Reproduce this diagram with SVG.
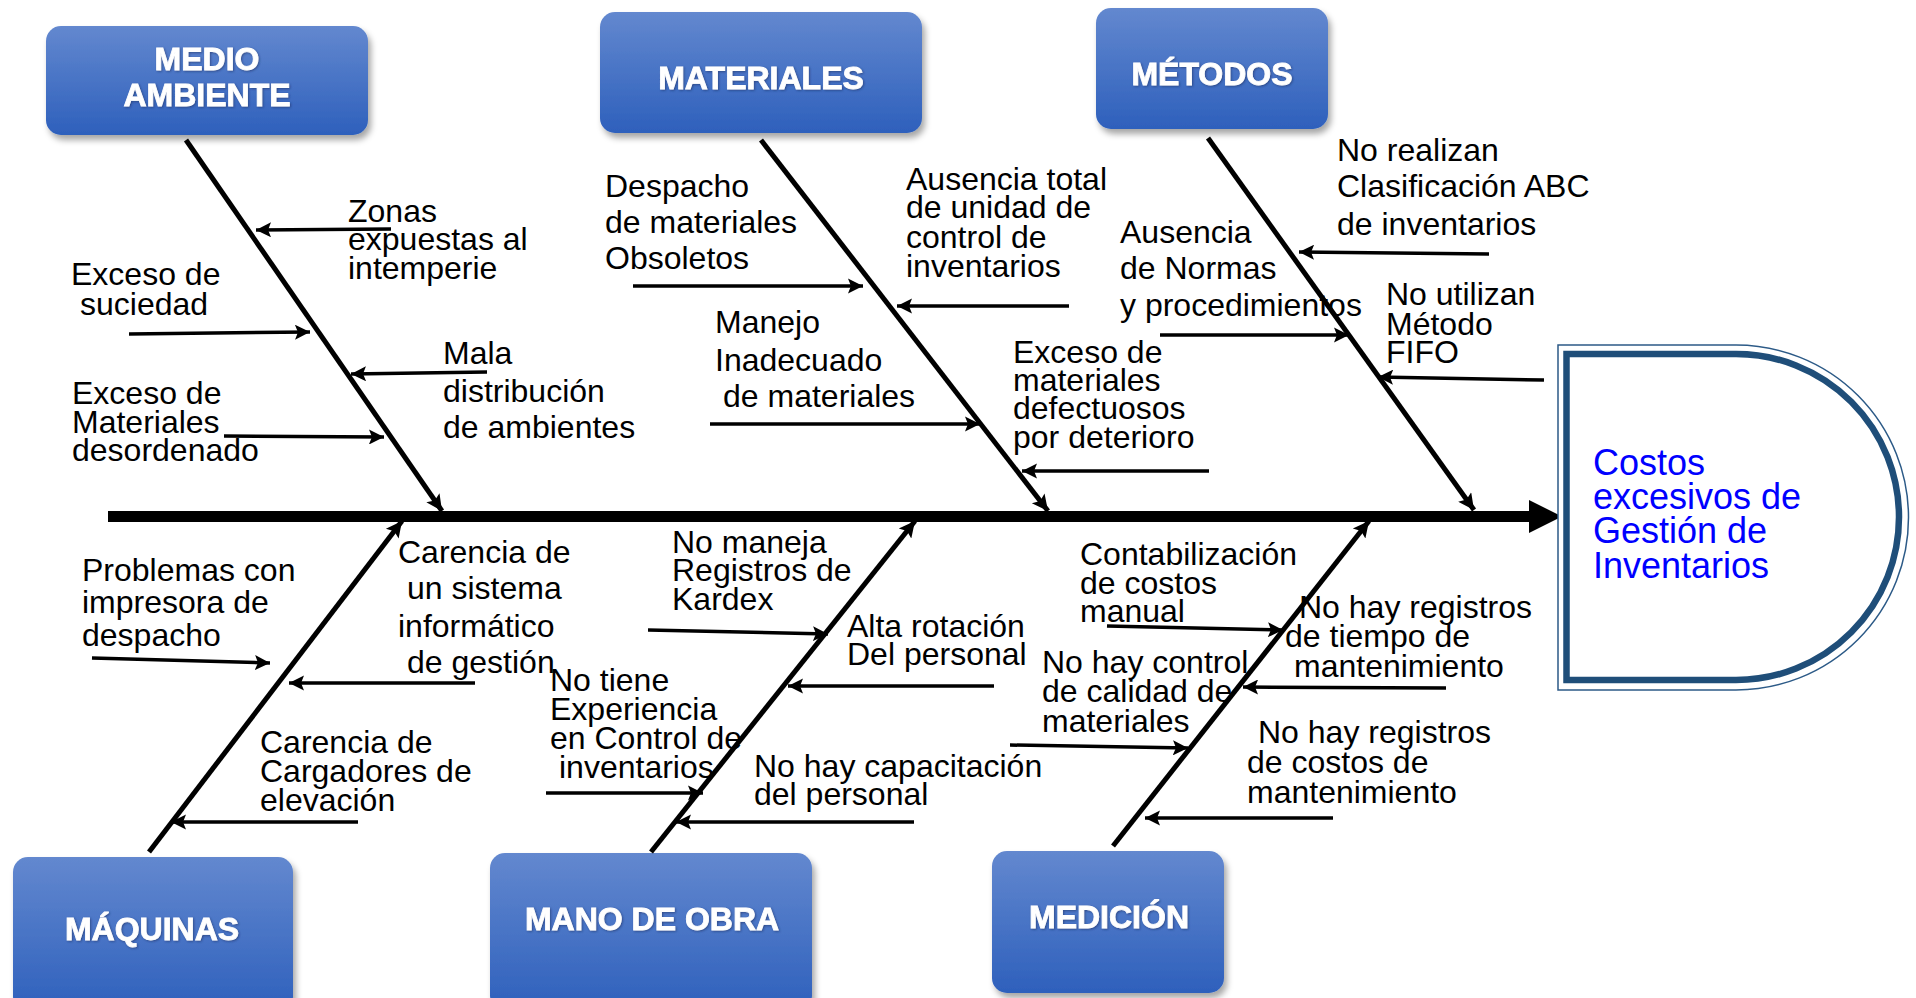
<svg xmlns="http://www.w3.org/2000/svg" width="1916" height="998" viewBox="0 0 1916 998">
<style>
.t{font-family:"Liberation Sans",Arial,sans-serif;font-size:32px;fill:#000}
.h{font-family:"Liberation Sans",Arial,sans-serif;font-weight:bold;font-size:32px;fill:#fff;stroke:#fff;stroke-width:0.8;text-anchor:middle}
.e{font-family:"Liberation Sans",Arial,sans-serif;font-size:36px;fill:#0000ff}
.box{fill:url(#g);filter:url(#sh)}
.a{stroke:#000;stroke-width:3.5;fill:none;marker-end:url(#ah)}
.b{stroke:#000;stroke-width:5;fill:none;marker-end:url(#bh)}
</style>
<defs>
<linearGradient id="g" x1="0" y1="0" x2="0" y2="1">
<stop offset="0" stop-color="#6388cf"/>
<stop offset="1" stop-color="#2e60bc"/>
</linearGradient>
<filter id="sh" x="-10%" y="-10%" width="125%" height="130%">
<feDropShadow dx="3" dy="5" stdDeviation="3" flood-color="#000" flood-opacity="0.35"/>
</filter>
<filter id="ts" x="-10%" y="-20%" width="120%" height="150%">
<feDropShadow dx="1" dy="1" stdDeviation="0.8" flood-color="#1a2f60" flood-opacity="0.6"/>
</filter>
<marker id="ah" viewBox="0 0 10 10" refX="10" refY="5" markerWidth="4.3" markerHeight="4.3" orient="auto" markerUnits="strokeWidth">
<path d="M0,0 L10,5 L0,10 L2,5 z" fill="#000"/>
</marker>
<marker id="bh" viewBox="0 0 10 10" refX="10" refY="5" markerWidth="3.6" markerHeight="3.2" orient="auto" markerUnits="strokeWidth">
<path d="M0,0 L10,5 L0,10 L2,5 z" fill="#000"/>
</marker>
</defs>
<rect width="1916" height="998" fill="#fff"/>

<g id="spine">
<line x1="108" y1="516.5" x2="1531" y2="516.5" stroke="#000" stroke-width="11"/>
<polygon points="1529,500 1562,516.5 1529,533" fill="#000"/>
</g>

<g id="effect">
<path d="M1558,345 H1736 A172.5,172.5 0 0 1 1736,690 H1558 Z" fill="#fff" stroke="#2c5a87" stroke-width="1.5"/>
<path d="M1566.5,354 H1736 A163,163 0 0 1 1736,680 H1566.5 Z" fill="none" stroke="#1f4e79" stroke-width="6.5"/>
<text class="e"><tspan x="1593" y="475">Costos</tspan><tspan x="1593" y="509">excesivos de</tspan><tspan x="1593" y="543">Gestión de</tspan><tspan x="1593" y="578">Inventarios</tspan></text>
</g>

<g id="medio-ambiente">
<rect class="box" x="46" y="26" width="322" height="109" rx="15"/>
<text class="h" filter="url(#ts)"><tspan x="207" y="70">MEDIO</tspan><tspan x="207" y="106">AMBIENTE</tspan></text>
</g>
<g id="materiales">
<rect class="box" x="600" y="12" width="322" height="121" rx="15"/>
<text class="h" filter="url(#ts)" x="761" y="89">MATERIALES</text>
</g>
<g id="metodos">
<rect class="box" x="1096" y="8" width="232" height="121" rx="15"/>
<text class="h" filter="url(#ts)" x="1212" y="85">MÉTODOS</text>
</g>
<g id="maquinas">
<rect class="box" x="13" y="857" width="280" height="155" rx="15"/>
<text class="h" filter="url(#ts)" x="152" y="940">MÁQUINAS</text>
</g>
<g id="mano-de-obra">
<rect class="box" x="490" y="853" width="322" height="158" rx="15"/>
<text class="h" filter="url(#ts)" x="652" y="930">MANO DE OBRA</text>
</g>
<g id="medicion">
<rect class="box" x="992" y="851" width="232" height="142" rx="15"/>
<text class="h" filter="url(#ts)" x="1109" y="928">MEDICIÓN</text>
</g>

<g id="connectors">
<line class="b" x1="186" y1="140" x2="442" y2="511"/>
<line class="b" x1="761" y1="140" x2="1048" y2="511"/>
<line class="b" x1="1208" y1="138" x2="1474" y2="510"/>
<line class="b" x1="149" y1="852" x2="402" y2="521"/>
<line class="b" x1="651" y1="852" x2="915" y2="521"/>
<line class="b" x1="1113" y1="846" x2="1369" y2="521"/>

<line class="a" x1="391" y1="229" x2="256" y2="230"/>
<line class="a" x1="129" y1="334" x2="310" y2="332"/>
<line class="a" x1="487" y1="372" x2="351" y2="374"/>
<line class="a" x1="224" y1="436" x2="384" y2="437"/>
<line class="a" x1="633" y1="286" x2="863" y2="286"/>
<line class="a" x1="1069" y1="306" x2="897" y2="306"/>
<line class="a" x1="710" y1="424" x2="980" y2="424"/>
<line class="a" x1="1209" y1="471" x2="1022" y2="471"/>
<line class="a" x1="1489" y1="254" x2="1299" y2="252"/>
<line class="a" x1="1160" y1="335" x2="1349" y2="335"/>
<line class="a" x1="1544" y1="380" x2="1378" y2="377"/>
<line class="a" x1="92" y1="658" x2="270" y2="663"/>
<line class="a" x1="475" y1="683" x2="289" y2="683"/>
<line class="a" x1="358" y1="822" x2="171" y2="822"/>
<line class="a" x1="648" y1="630" x2="828" y2="634"/>
<line class="a" x1="994" y1="686" x2="788" y2="686"/>
<line class="a" x1="546" y1="793" x2="703" y2="793"/>
<line class="a" x1="914" y1="822" x2="676" y2="822"/>
<line class="a" x1="1107" y1="626" x2="1283" y2="630"/>
<line class="a" x1="1446" y1="688" x2="1243" y2="687"/>
<line class="a" x1="1010" y1="745" x2="1188" y2="748"/>
<line class="a" x1="1333" y1="818" x2="1145" y2="818"/>
</g>

<g id="cause-zonas"><text class="t"><tspan x="348" y="222">Zonas</tspan><tspan x="348" y="250">expuestas al</tspan><tspan x="348" y="279">intemperie</tspan></text></g>
<g id="cause-suciedad"><text class="t"><tspan x="71" y="285">Exceso de</tspan><tspan x="80" y="315">suciedad</tspan></text></g>
<g id="cause-mala"><text class="t"><tspan x="443" y="364">Mala</tspan><tspan x="443" y="402">distribución</tspan><tspan x="443" y="438">de ambientes</tspan></text></g>
<g id="cause-desordenado"><text class="t"><tspan x="72" y="404">Exceso de</tspan><tspan x="72" y="433">Materiales</tspan><tspan x="72" y="461">desordenado</tspan></text></g>

<g id="cause-despacho"><text class="t"><tspan x="605" y="197">Despacho</tspan><tspan x="605" y="233">de materiales</tspan><tspan x="605" y="269">Obsoletos</tspan></text></g>
<g id="cause-ausencia-total"><text class="t"><tspan x="906" y="190">Ausencia total</tspan><tspan x="906" y="218">de unidad de</tspan><tspan x="906" y="248">control de</tspan><tspan x="906" y="277">inventarios</tspan></text></g>
<g id="cause-manejo"><text class="t"><tspan x="715" y="333">Manejo</tspan><tspan x="715" y="371">Inadecuado</tspan><tspan x="723" y="407">de materiales</tspan></text></g>
<g id="cause-deterioro"><text class="t"><tspan x="1013" y="363">Exceso de</tspan><tspan x="1013" y="391">materiales</tspan><tspan x="1013" y="419">defectuosos</tspan><tspan x="1013" y="448">por deterioro</tspan></text></g>

<g id="cause-abc"><text class="t"><tspan x="1337" y="161">No realizan</tspan><tspan x="1337" y="197">Clasificación ABC</tspan><tspan x="1337" y="235">de inventarios</tspan></text></g>
<g id="cause-normas"><text class="t"><tspan x="1120" y="243">Ausencia</tspan><tspan x="1120" y="279">de Normas</tspan><tspan x="1120" y="316">y procedimientos</tspan></text></g>
<g id="cause-fifo"><text class="t"><tspan x="1386" y="305">No utilizan</tspan><tspan x="1386" y="335">Método</tspan><tspan x="1386" y="363">FIFO</tspan></text></g>

<g id="cause-impresora"><text class="t"><tspan x="82" y="581">Problemas con</tspan><tspan x="82" y="613">impresora de</tspan><tspan x="82" y="646">despacho</tspan></text></g>
<g id="cause-sistema"><text class="t"><tspan x="398" y="563">Carencia de</tspan><tspan x="407" y="599">un sistema</tspan><tspan x="398" y="637">informático</tspan><tspan x="407" y="673">de gestión</tspan></text></g>
<g id="cause-cargadores"><text class="t"><tspan x="260" y="753">Carencia de</tspan><tspan x="260" y="782">Cargadores de</tspan><tspan x="260" y="811">elevación</tspan></text></g>

<g id="cause-kardex"><text class="t"><tspan x="672" y="553">No maneja</tspan><tspan x="672" y="581">Registros de</tspan><tspan x="672" y="610">Kardex</tspan></text></g>
<g id="cause-rotacion"><text class="t"><tspan x="847" y="637">Alta rotación</tspan><tspan x="847" y="665">Del personal</tspan></text></g>
<g id="cause-experiencia"><text class="t"><tspan x="550" y="691">No tiene</tspan><tspan x="550" y="720">Experiencia</tspan><tspan x="550" y="749">en Control de</tspan><tspan x="559" y="778">inventarios</tspan></text></g>
<g id="cause-capacitacion"><text class="t"><tspan x="754" y="777">No hay capacitación</tspan><tspan x="754" y="805">del personal</tspan></text></g>

<g id="cause-contabilizacion"><text class="t"><tspan x="1080" y="565">Contabilización</tspan><tspan x="1080" y="594">de costos</tspan><tspan x="1080" y="622">manual</tspan></text></g>
<g id="cause-tiempo"><text class="t"><tspan x="1299" y="618">No hay registros</tspan><tspan x="1285" y="647">de tiempo de</tspan><tspan x="1294" y="677">mantenimiento</tspan></text></g>
<g id="cause-calidad"><text class="t"><tspan x="1042" y="673">No hay control</tspan><tspan x="1042" y="702">de calidad de</tspan><tspan x="1042" y="732">materiales</tspan></text></g>
<g id="cause-costos"><text class="t"><tspan x="1258" y="743">No hay registros</tspan><tspan x="1247" y="773">de costos de</tspan><tspan x="1247" y="803">mantenimiento</tspan></text></g>
</svg>
